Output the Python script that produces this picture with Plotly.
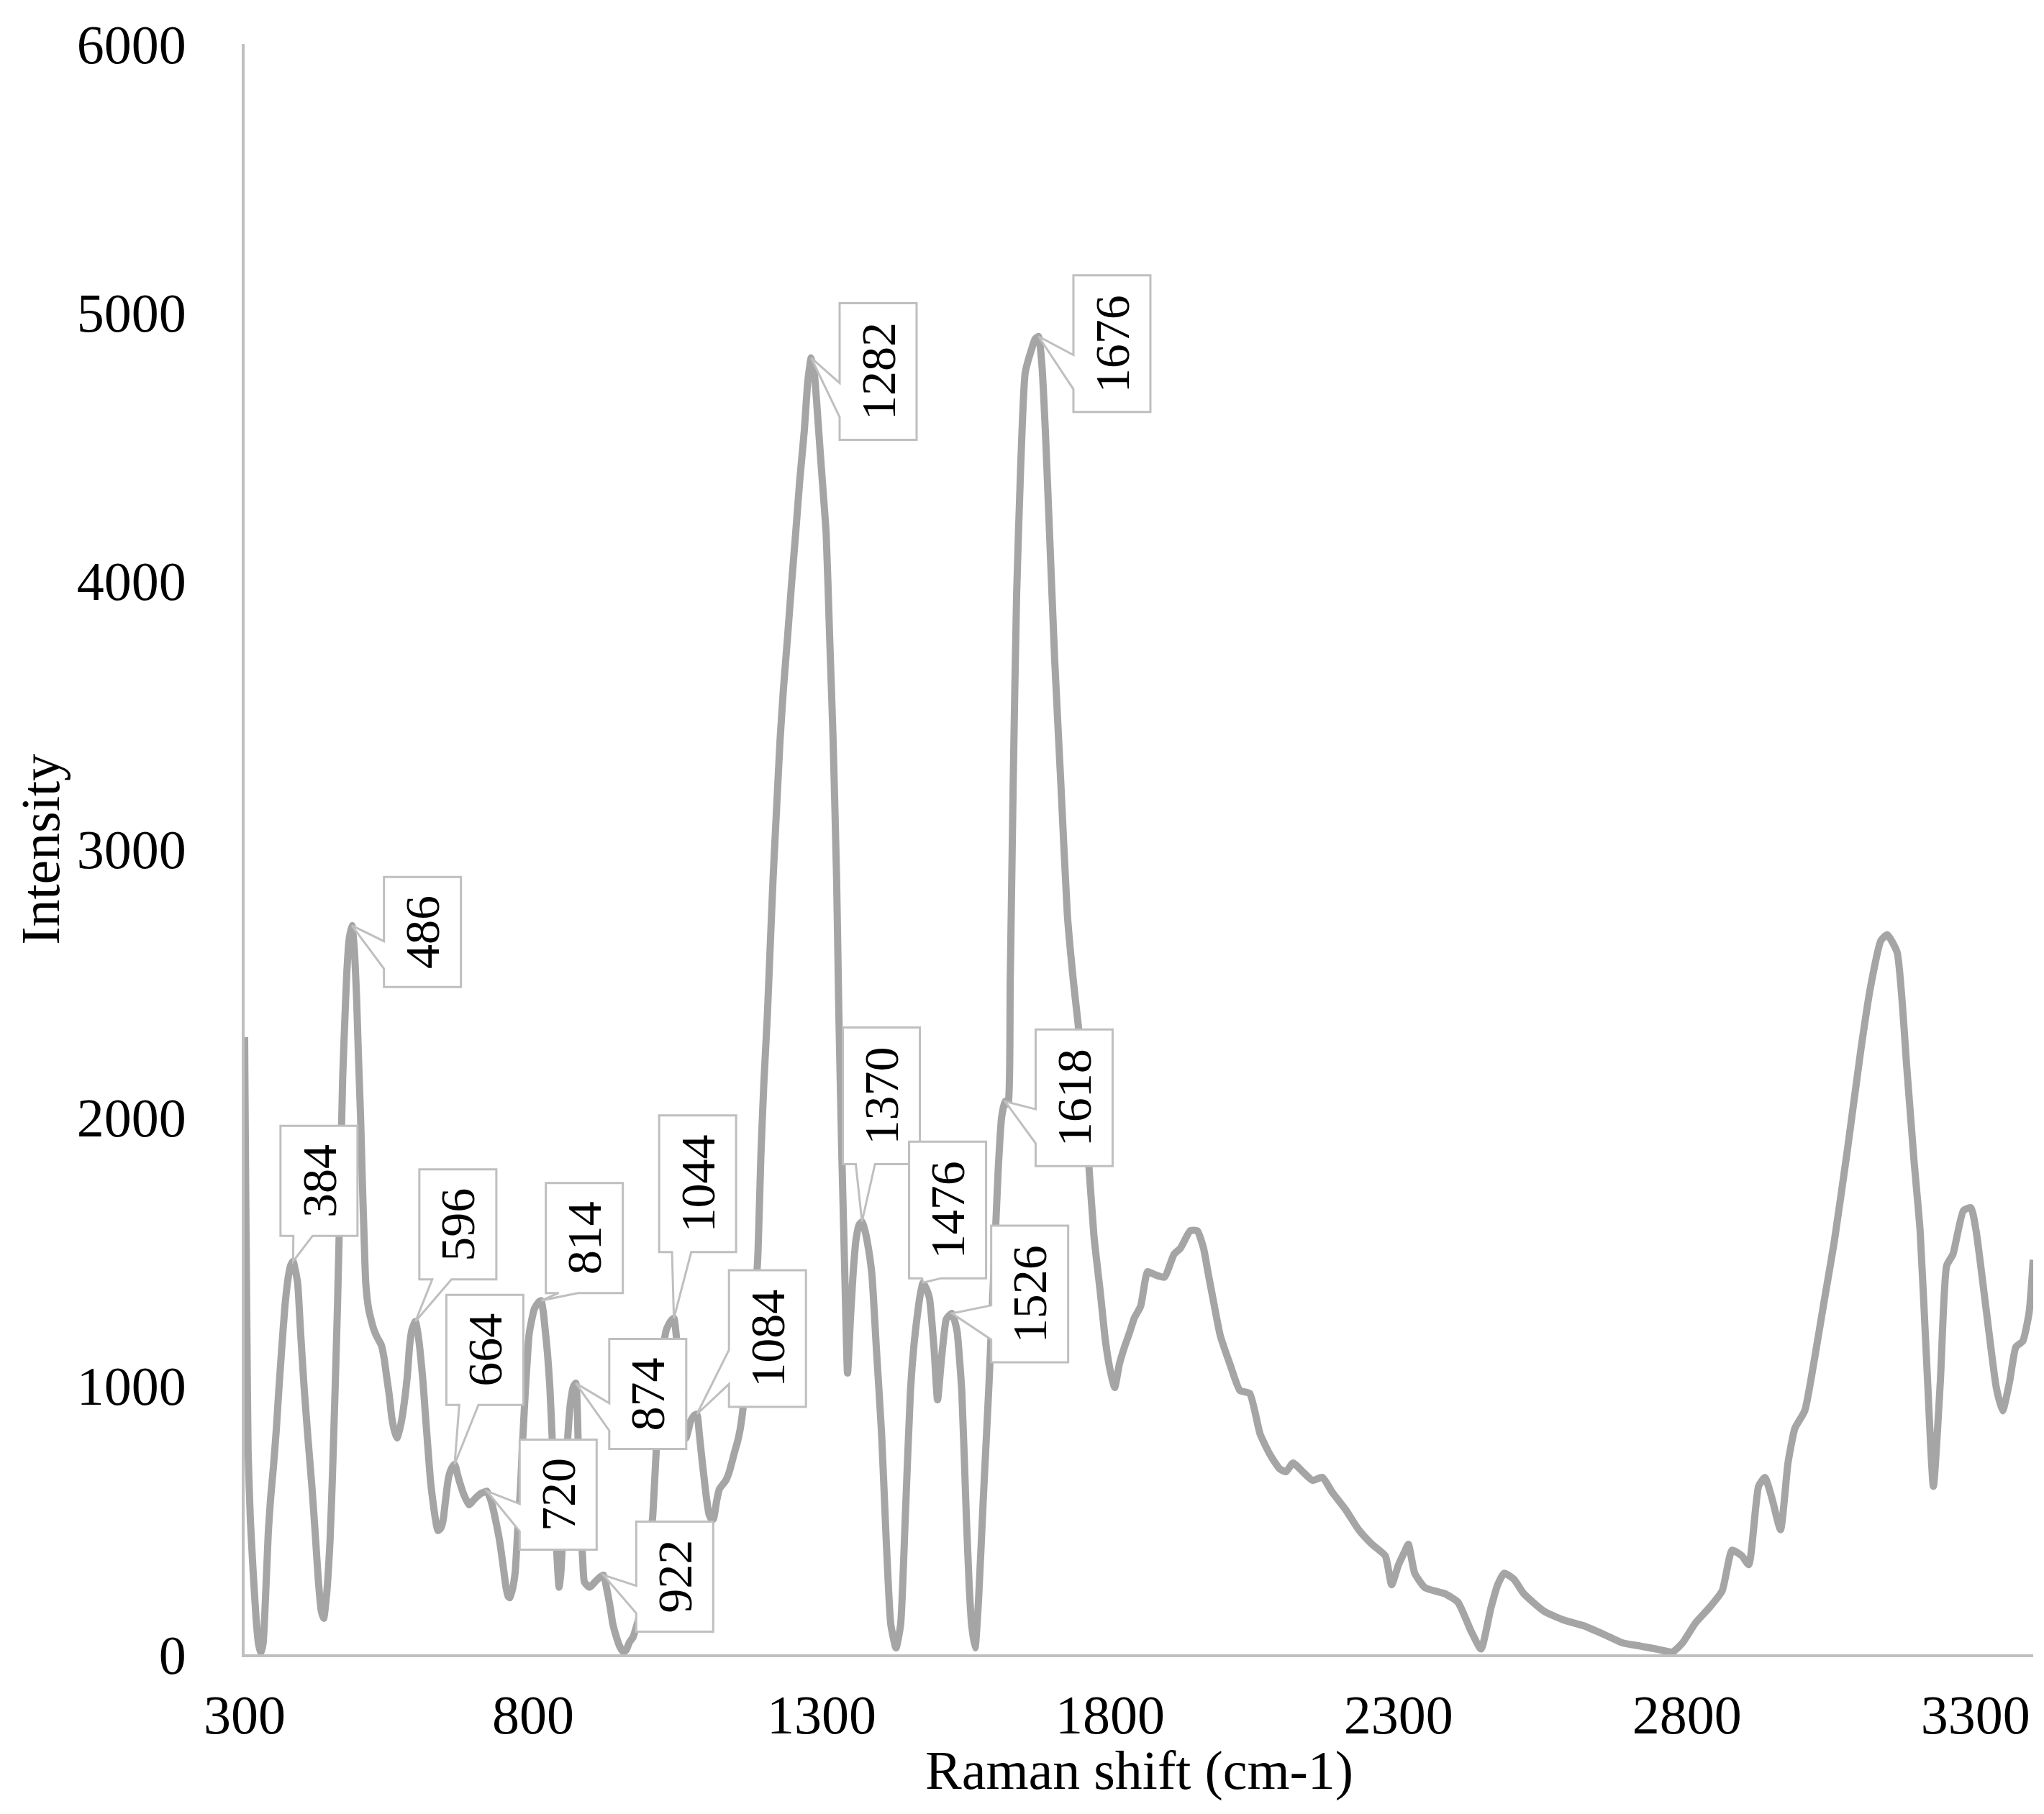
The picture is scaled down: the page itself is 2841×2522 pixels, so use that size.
import plotly.graph_objects as go

# Raman spectrum
shift = [
    300, 302, 304, 306, 310, 315, 320, 324, 328, 332, 336, 341, 345, 350, 355, 359, 364, 370, 376, 380,
    384, 388, 392, 397, 403, 410, 417, 423, 428, 433, 437, 442, 448, 452, 457, 461, 464, 467,
    470, 474, 477, 481, 486, 490, 494, 497, 501, 504, 507, 510, 515, 520, 524, 530, 537, 542,
    546, 551, 555, 560, 564, 569, 573, 578, 582, 586, 590, 596, 600, 604, 609, 613, 618, 622,
    626, 631, 635, 640, 644, 648, 653, 658, 664, 669, 673, 680, 689, 695, 702, 710, 716, 720,
    725, 729, 735, 742, 748, 753, 757, 760, 765, 769, 773, 778, 782, 787, 790, 793, 798, 802,
    807, 811, 814, 818, 820, 825, 829, 834, 838, 841, 845, 848, 851, 856, 860, 865, 870, 874,
    878, 882, 886, 889, 898, 907, 916, 922, 928, 934, 938, 945, 950, 956, 961, 967, 973, 980,
    990, 997, 1003, 1007, 1011, 1015, 1020, 1025, 1031, 1038, 1044, 1048, 1052, 1055, 1060,
    1065, 1069, 1073, 1079, 1084, 1088, 1092, 1096, 1100, 1105, 1110, 1113, 1118, 1123, 1134,
    1140, 1144, 1150, 1154, 1159, 1163, 1168, 1173, 1178, 1184, 1189, 1195, 1200, 1206, 1211,
    1216, 1222, 1228, 1234, 1241, 1248, 1255, 1262, 1270, 1276, 1282, 1287, 1291, 1295, 1301,
    1308, 1314, 1320, 1326, 1330, 1335, 1341, 1345, 1350, 1355, 1360, 1365, 1370, 1375, 1379,
    1387, 1395, 1404, 1412, 1420, 1429, 1437, 1445, 1454, 1460, 1466, 1471, 1476, 1482, 1487,
    1495, 1501, 1508, 1516, 1521, 1526, 1531, 1535, 1543, 1551, 1556, 1560, 1566, 1572, 1580,
    1590, 1598, 1606, 1612, 1618, 1623, 1627, 1632, 1638, 1645, 1653, 1665, 1670, 1676, 1682,
    1688, 1695, 1704, 1715, 1726, 1736, 1748, 1760, 1772, 1783, 1792, 1800, 1808, 1816, 1825,
    1834, 1842, 1853, 1865, 1876, 1894, 1911, 1922, 1939, 1951, 1962, 1970, 1979, 1991, 2008,
    2025, 2042, 2060, 2077, 2094, 2105, 2117, 2134, 2151, 2168, 2185, 2208, 2231, 2254, 2277,
    2288, 2300, 2310, 2317, 2328, 2346, 2380, 2403, 2426, 2443, 2460, 2472, 2483, 2500, 2517,
    2552, 2586, 2620, 2655, 2689, 2718, 2746, 2775, 2792, 2815, 2838, 2861, 2878, 2895, 2907,
    2924, 2935, 2947, 2962, 2975, 2987, 3004, 3021, 3038, 3055, 3078, 3101, 3118, 3136, 3147,
    3164, 3181, 3193, 3204, 3216, 3227, 3239, 3250, 3261, 3279, 3292, 3301, 3319, 3336, 3347,
    3359, 3370, 3382, 3393, 3400,
]
intensity = [
    2300, 1700, 1200, 760, 500, 300, 130, 40, 5, 40, 200, 453, 580, 700, 840, 975, 1130, 1300, 1410, 1450,
    1464, 1430, 1382, 1200, 998, 800, 614, 430, 269, 160, 134, 220, 422, 650, 998, 1300, 1574, 1870,
    2150, 2380, 2534, 2660, 2715, 2630, 2450, 2246, 2000, 1766, 1560, 1382, 1286, 1240, 1210, 1180, 1152, 1100,
    1037, 960, 883, 830, 806, 840, 883, 960, 1037, 1150, 1210, 1240, 1200, 1133, 1020, 902, 760, 650,
    576, 500, 461, 470, 499, 570, 653, 690, 708, 670, 640, 595, 557, 570, 586, 600, 605, 608,
    585, 557, 500, 422, 330, 250, 215, 211, 250, 307, 450, 614, 800, 998, 1100, 1190, 1250, 1286,
    1305, 1315, 1318, 1270, 1229, 1120, 998, 760, 518, 380, 250, 300, 422, 620, 806, 940, 998, 1010,
    800, 518, 350, 269, 250, 269, 288, 295, 240, 170, 115, 60, 30, 10, 15, 45, 63, 110,
    190, 320, 450, 506, 660, 822, 980, 1138, 1210, 1240, 1252, 1190, 1080, 980, 880,
    806, 835, 869, 890, 895, 822, 740, 664, 590, 521, 500, 506, 570, 616, 648,
    680, 711, 760, 790, 840, 901, 1000, 1138, 1250, 1340, 1460, 1869, 2130, 2380, 2640,
    2893, 3150, 3405, 3600, 3789, 3990, 4174, 4370, 4558, 4740, 4830, 4780, 4680, 4558, 4380,
    4174, 3789, 3405, 2893, 2380, 1869, 1355, 1048, 1250, 1430, 1550, 1600, 1612, 1580, 1540,
    1420, 1138, 822, 427, 111, 24, 111, 506, 980, 1150, 1264, 1340, 1385, 1360, 1327,
    1138, 948, 1106, 1248, 1262, 1270, 1240, 1201, 980, 506, 250, 111, 24, 200, 567,
    1000, 1400, 1800, 2000, 2060, 2050, 2517, 3231, 3944, 4420, 4776, 4870, 4900, 4910, 4800,
    4550, 4182, 3706, 3231, 2755, 2517, 2279, 1923, 1560, 1350, 1167, 1060, 994, 1080, 1145,
    1200, 1253, 1297, 1426, 1416, 1405, 1491, 1513, 1578, 1578, 1513, 1420, 1318, 1188, 1080,
    983, 972, 821, 745, 691, 680, 713, 680, 648, 659, 604, 540, 464, 410, 367,
    259, 334, 380, 410, 302, 248, 226, 194, 85, 20, 172, 260, 302, 280, 226,
    161, 128, 107, 75, 42, 31, 20, 9, 42, 118, 172, 237, 388, 367, 334,
    626, 659, 583, 464, 713, 842, 907, 1102, 1320, 1535, 1880, 2248, 2486, 2659, 2681,
    2616, 2183, 1850, 1578, 1059, 626, 1015, 1448, 1491, 1653, 1664, 1578, 1275, 994, 907,
    1015, 1145, 1167, 1275, 1470,
]

# labelled peaks, and where each callout box centre sits (px right / px down from the peak)
peak_labels = [384, 486, 596, 664, 720, 814, 874, 922, 1044, 1084, 1282, 1370, 1476, 1526, 1618, 1676]
box_dx = [36, 98, 59, 42, 99, 60, 100, 99, 33, 98, 93, 27, 34, 108, 96, 102]
box_dy = [-112, 9, -135, -159, 5, -87, 15, 2, -187, -105, 19, -175, -101, -27, -5, 10]

line_grey = "#A5A5A5"
axis_grey = "#BFBFBF"
serif = "Liberation Serif"

fig = go.Figure()
fig.add_trace(go.Scatter(
    x=shift, y=intensity, mode="lines",
    line=dict(color=line_grey, width=10, shape="spline", smoothing=0.5),
    showlegend=False, hoverinfo="skip",
))


def callout_path(dx, dy, w, h):
    # box + wedge outline, in px relative to the peak (y up)
    cx, cy = dx, -dy
    L, R, T, B = cx - w / 2, cx + w / 2, cy + h / 2, cy - h / 2
    if B > L:
        # peak lies below the box: wedge on the bottom edge
        xa, xb = L + 0.167 * w, L + 0.417 * w
        pts = [(L, T), (R, T), (R, B), (xb, B), (0, 0), (xa, B), (L, B)]
    else:
        # peak lies left of the box: wedge on the left edge
        ya, yb = T - 0.583 * h, T - 0.833 * h
        pts = [(L, T), (R, T), (R, B), (L, B), (L, yb), (0, 0), (L, ya)]
    return "M " + " L ".join(f"{x:.1f},{y:.1f}" for x, y in pts) + " Z"


for p, dx, dy in zip(peak_labels, box_dx, box_dy):
    txt = str(p)
    yv = intensity[shift.index(p)]
    h = 190 if len(txt) == 4 else 153
    fig.add_shape(
        type="path", xref="x", yref="y",
        xsizemode="pixel", ysizemode="pixel", xanchor=p, yanchor=yv,
        path=callout_path(dx, dy, 107, h),
        fillcolor="white", line=dict(color=axis_grey, width=3), layer="above",
    )
    fig.add_annotation(
        x=p, y=yv, xref="x", yref="y", xshift=dx, yshift=-dy,
        text=txt, textangle=-90, showarrow=False,
        xanchor="center", yanchor="middle",
        font=dict(family=serif, size=68, color="black"),
    )

# axis titles
fig.add_annotation(
    text="Raman shift (cm-1)", xref="paper", yref="paper", x=0.5, y=-0.072,
    xanchor="center", yanchor="middle", showarrow=False,
    font=dict(family=serif, size=76, color="black"),
)
fig.add_annotation(
    text="Intensity", xref="paper", yref="paper", x=-0.1145, y=0.5,
    xanchor="center", yanchor="middle", showarrow=False, textangle=-90,
    font=dict(family=serif, size=76, color="black"),
)

# the page body keeps its default 8px margin, so the figure is 8px smaller
fig.update_layout(
    width=2833,
    height=2514,
    margin=dict(l=332, r=15, t=47, b=222, pad=0),
    paper_bgcolor="white",
    plot_bgcolor="white",
    font=dict(family=serif, size=76, color="black"),
)

fig.update_xaxes(
    range=[300, 3400],
    tickvals=[300, 800, 1300, 1800, 2300, 2800, 3300],
    showline=True, linecolor=axis_grey, linewidth=4,
    showgrid=False, zeroline=False, ticks="",
    ticklabelstandoff=15,
    tickfont=dict(family=serif, size=76, color="black"),
)
fig.update_yaxes(
    range=[0, 6000],
    tickvals=[0, 1000, 2000, 3000, 4000, 5000, 6000],
    showline=True, linecolor=axis_grey, linewidth=4,
    showgrid=False, zeroline=False, ticks="",
    ticklabelstandoff=62,
    tickfont=dict(family=serif, size=76, color="black"),
)

fig.write_html("out.html")
